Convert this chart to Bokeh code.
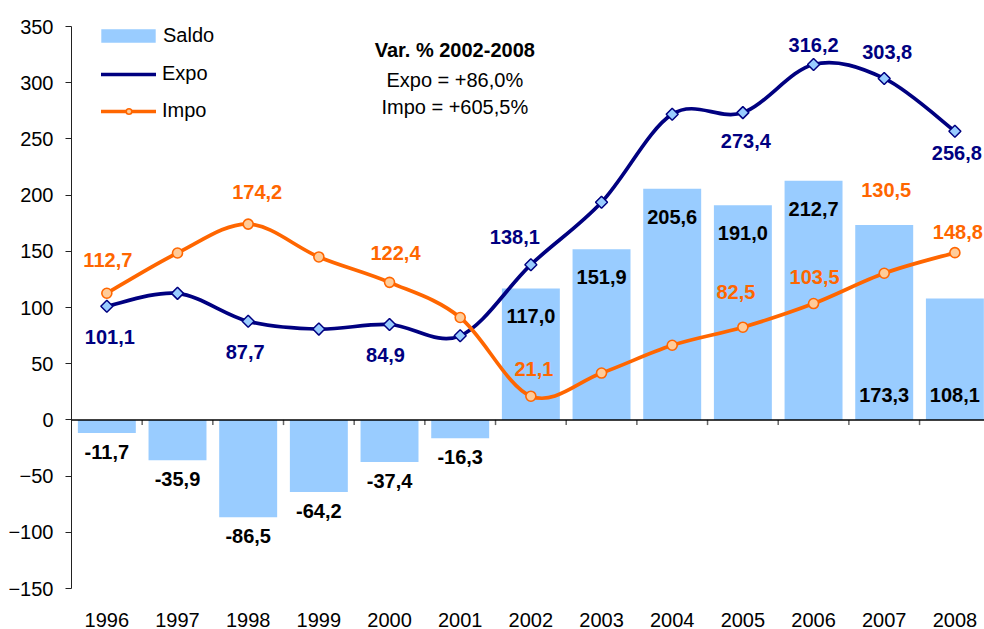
import numpy as np
from bokeh.plotting import figure
from bokeh.models import (Range1d, FixedTicker, Legend, LegendItem,
                          ColumnDataSource, Label, Span)
from bokeh.embed import file_html
from bokeh.resources import INLINE
from bokeh.core.properties import value

# ---------------- data ----------------
years = [1996, 1997, 1998, 1999, 2000, 2001, 2002, 2003, 2004, 2005, 2006, 2007, 2008]
saldo = [-11.7, -35.9, -86.5, -64.2, -37.4, -16.3, 117.0, 151.9, 205.6, 191.0, 212.7, 173.3, 108.1]
expo = [101.1, 112.6, 87.7, 80.8, 84.9, 74.8, 138.1, 193.6, 272.0, 273.4, 316.2, 303.8, 256.8]
impo = [112.7, 148.5, 174.2, 145.0, 122.4, 91.1, 21.1, 41.7, 66.4, 82.5, 103.5, 130.5, 148.8]
y_ticks = [-150, -100, -50, 0, 50, 100, 150, 200, 250, 300, 350]
title_lines = ["Var. % 2002-2008", "Expo = +86,0%", "Impo = +605,5%"]

# which points carry a data label
expo_labeled = [1996, 1998, 2000, 2002, 2005, 2006, 2007, 2008]
impo_labeled = [1996, 1998, 2000, 2002, 2005, 2006, 2007, 2008]

# ---------------- styling ----------------
FONT = "Liberation Sans"
FS = "20px"
NAVY = "#000080"
ORANGE = "#FF6600"
BAR = "#99CCFF"
LW = 3.7

# label offsets in screen pixels (dx, dy; +dy = down)
expo_off = [(3, 31), (-3, 31), (-4, 31), (-16, -28), (3, 28), (0, -20), (3, -26), (2, 22)]
impo_off = [(1, -33), (9, -32), (6, -29), (3, -27), (-7, -35), (1, -27), (2, -83), (3, -21)]
saldo_pos = ["out"] * 6 + ["in"] * 5 + ["base"] * 2


def fmt(v):
    return f"{v:.1f}".replace(".", ",")


def smooth_segments(xs, ys):
    X = np.asarray(xs, float)
    Y = np.asarray(ys, float)
    n = len(X)
    i = np.arange(n - 1)
    im1 = np.clip(i - 1, 0, n - 1)
    ip2 = np.clip(i + 2, 0, n - 1)
    return dict(
        x0=X[i], y0=Y[i], x1=X[i + 1], y1=Y[i + 1],
        cx0=X[i] + (X[i + 1] - X[im1]) / 6.0, cy0=Y[i] + (Y[i + 1] - Y[im1]) / 6.0,
        cx1=X[i + 1] - (X[ip2] - X[i]) / 6.0, cy1=Y[i + 1] - (Y[ip2] - Y[i]) / 6.0,
    )


# frame: 1.126 px per unit; a little headroom above 350 so the legend is not clipped
p = figure(width=984, height=629, output_backend="svg", toolbar_location=None,
           x_range=Range1d(years[0] - 0.5, years[-1] + 0.419),
           y_range=Range1d(y_ticks[0], y_ticks[-1] + 9.8),
           min_border_left=71, min_border_right=0, min_border_top=15, min_border_bottom=40)
p.outline_line_color = None
p.xgrid.visible = False
p.ygrid.visible = False
p.background_fill_color = "white"
p.border_fill_color = "white"

# y axis
ya = p.yaxis[0]
ya.ticker = FixedTicker(ticks=y_ticks)
ya.bounds = (y_ticks[0], y_ticks[-1])
ya.major_tick_out = 6
ya.major_tick_in = 0
ya.minor_tick_line_color = None
ya.axis_line_color = "#222222"
ya.major_tick_line_color = "#222222"
ya.major_label_text_font = FONT
ya.major_label_text_font_size = FS
ya.major_label_text_color = "black"
ya.major_label_standoff = 12

# year labels axis (bottom, no line)
xa = p.xaxis[0]
xa.ticker = FixedTicker(ticks=years)
xa.major_label_overrides = {y: str(y) for y in years}
xa.axis_line_color = None
xa.major_tick_line_color = None
xa.minor_tick_line_color = None
xa.major_tick_out = 0
xa.major_tick_in = 0
xa.major_label_standoff = 24
xa.major_label_text_font = FONT
xa.major_label_text_font_size = FS
xa.major_label_text_color = "black"

# category boundary ticks hanging below the zero line
bounds = [y + 0.5 for y in years[:-1]]
p.segment(x0=bounds, x1=bounds, y0=[0] * len(bounds), y1=[-4.6] * len(bounds),
          line_color="#666666", line_width=1.5)

# bars
bars = p.vbar(x=years, top=saldo, bottom=0, width=0.82, fill_color=BAR, line_color=None)

# zero line
p.add_layout(Span(location=0, dimension="width", line_color="black", line_width=1.5))

# smooth lines
expo_line = p.bezier(source=ColumnDataSource(smooth_segments(years, expo)),
                     x0="x0", y0="y0", x1="x1", y1="y1", cx0="cx0", cy0="cy0", cx1="cx1", cy1="cy1",
                     line_color=NAVY, line_width=LW, line_cap="round")
impo_line = p.bezier(source=ColumnDataSource(smooth_segments(years, impo)),
                     x0="x0", y0="y0", x1="x1", y1="y1", cx0="cx0", cy0="cy0", cx1="cx1", cy1="cy1",
                     line_color=ORANGE, line_width=LW, line_cap="round")

expo_pts = p.scatter(x=years, y=expo, marker="square", angle=np.pi / 4, size=8.5,
                     fill_color=BAR, line_color=NAVY, line_width=1.5)
impo_pts = p.scatter(x=years, y=impo, marker="circle", size=10,
                     fill_color="#FFCC99", line_color=ORANGE, line_width=1.6)
# legend-only marker (legends draw markers unrotated)
expo_leg_marker = p.scatter(x=[], y=[], marker="diamond", size=16,
                            fill_color=BAR, line_color=NAVY, line_width=1.5)


# data labels
def label_source(series, labeled, offsets):
    xs, ys, ts, dx, dy = [], [], [], [], []
    for yr, (ox, oy) in zip(labeled, offsets):
        v = series[years.index(yr)]
        xs.append(yr); ys.append(v); ts.append(fmt(v)); dx.append(ox); dy.append(oy)
    return ColumnDataSource(dict(x=xs, y=ys, t=ts, dx=dx, dy=dy))


sx, sy, st, sdx, sdy = [], [], [], [], []
for yr, v, pos in zip(years, saldo, saldo_pos):
    sx.append(yr); st.append(fmt(v)); sdx.append(0)
    if pos == "out":
        sy.append(v); sdy.append(19)
    elif pos == "in":
        sy.append(v); sdy.append(28)
    else:
        sy.append(0); sdy.append(-25)
saldo_src = ColumnDataSource(dict(x=sx, y=sy, t=st, dx=sdx, dy=sdy))

for src, col in [(saldo_src, "black"),
                 (label_source(expo, expo_labeled, expo_off), NAVY),
                 (label_source(impo, impo_labeled, impo_off), ORANGE)]:
    p.text(x="x", y="y", text="t", x_offset="dx", y_offset="dy", source=src,
           text_align="center", text_baseline="middle",
           text_font=value(FONT), text_font_style="bold", text_font_size=FS,
           text_color=col)

# annotation text
for txt, yv, style in [(title_lines[0], 328.9, "bold"), (title_lines[1], 302.0, "normal"),
                       (title_lines[2], 278.0, "normal")]:
    p.add_layout(Label(x=2000.924, y=yv, text=txt, text_align="center", text_baseline="middle",
                       text_font=FONT, text_font_size=FS, text_font_style=style,
                       text_color="black"))

# legends
PAD = 4
leg1 = Legend(items=[LegendItem(label="Saldo", renderers=[bars])],
              location=(23, 541), padding=PAD, margin=0, border_line_color=None,
              background_fill_alpha=0, glyph_width=68, glyph_height=17, label_standoff=1,
              label_text_font=FONT, label_text_font_size=FS, label_text_color="black")
leg2 = Legend(items=[LegendItem(label="Expo", renderers=[expo_line, expo_leg_marker]),
                     LegendItem(label="Impo", renderers=[impo_line, impo_pts])],
              location=(30, 466), padding=PAD, margin=0, border_line_color=None,
              background_fill_alpha=0, glyph_width=55, glyph_height=14, label_standoff=6,
              spacing=14, label_text_font=FONT, label_text_font_size=FS,
              label_text_color="black")
p.add_layout(leg1, "center")
p.add_layout(leg2, "center")

open("out.html", "w").write(file_html(p, INLINE))
